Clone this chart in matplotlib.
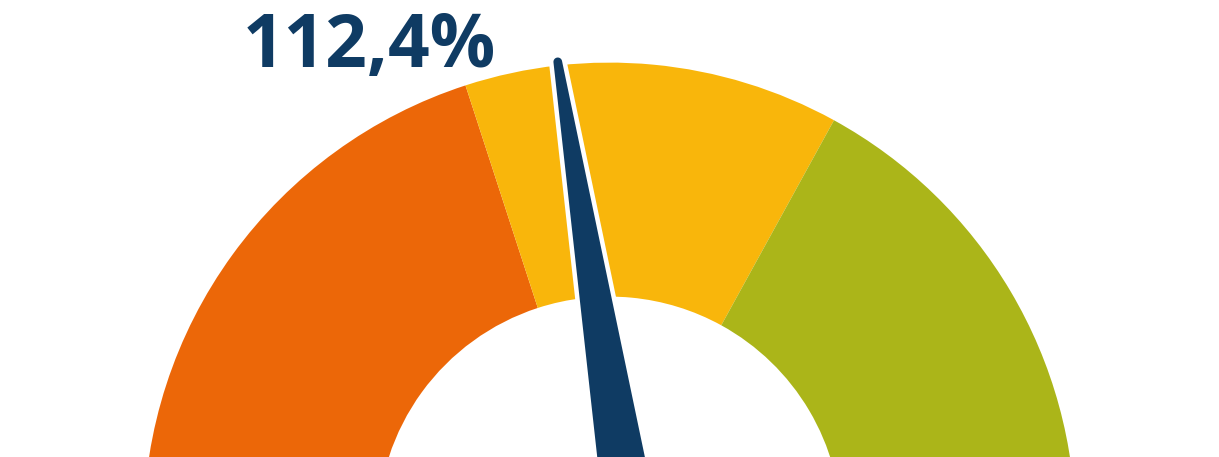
import numpy as np
import matplotlib
matplotlib.use("Agg")
import matplotlib.pyplot as plt
from matplotlib.patches import Wedge, Polygon

# ---- data ----
gauge_min = 0
gauge_max = 250
band_edges = [0, 100, 165, 250]
band_colors = ["#EC6708", "#F9B60B", "#ABB519"]
value = 112.4
value_label = "112,4%"

# ---- style / layout (pixel units) ----
W, H = 1219, 457
cx, cy = 609.5, 457 - 528.6
R_out, R_in = 466.0, 232.0
needle_dx = 22.8
needle_base = 54.0
needle_taper = 0.095
needle_len = 477.0
needle_color = "#0F3B63"


def angle(v):
    return 180.0 - (v - gauge_min) / (gauge_max - gauge_min) * 180.0


fig = plt.figure(figsize=(W / 100, H / 100), dpi=100)
ax = fig.add_axes([0, 0, 1, 1])
ax.set_xlim(0, W)
ax.set_ylim(0, H)
ax.axis("off")

for lo, hi, col in zip(band_edges[:-1], band_edges[1:], band_colors):
    ax.add_patch(Wedge((cx, cy), R_out, angle(hi), angle(lo),
                       width=R_out - R_in, facecolor=col, edgecolor="none"))

# needle
a = np.deg2rad(angle(value))
u = np.array([np.cos(a), np.sin(a)])
n = np.array([-np.sin(a), np.cos(a)])
px, py = cx + needle_dx, cy
piv = np.array([px, py])
top_w = needle_base - needle_taper * needle_len
cap_r = top_w / 2
d_top = needle_len - cap_r
pts = [piv + n * needle_base / 2]
pts.append(piv + u * d_top + n * top_w / 2)
for t in np.linspace(np.pi / 2, -np.pi / 2, 15):
    pts.append(piv + u * d_top + (u * np.cos(t) + n * np.sin(t)) * cap_r)
pts.append(piv - n * needle_base / 2)
pts = np.array(pts)
ax.add_patch(Polygon(pts, closed=True, facecolor="white", edgecolor="white",
                     linewidth=9 * 0.72, joinstyle="round", zorder=3))
ax.add_patch(Polygon(pts, closed=True, facecolor=needle_color,
                     edgecolor="none", zorder=4))

ax.text(243, H - 66.7, value_label, fontsize=52.5, fontweight="bold",
        family=["Open Sans", "DejaVu Sans"], color=needle_color,
        ha="left", va="baseline", zorder=5)

fig.savefig("out.png", dpi=100)
